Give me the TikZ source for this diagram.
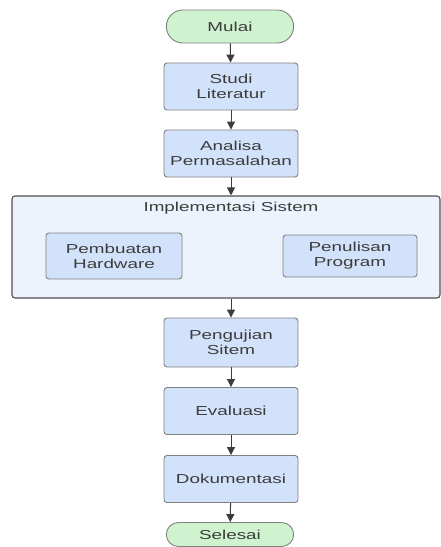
\documentclass[tikz,border=0pt]{standalone}
\usepackage{fontspec}
\setmainfont{Liberation Sans}[FakeStretch=1.45]
\usetikzlibrary{arrows.meta,shapes.misc}

\definecolor{boxfill}{HTML}{D2E2FA}
\definecolor{termfill}{HTML}{CFF2CF}
\definecolor{groupfill}{HTML}{EDF3FC}
\definecolor{inkgrey}{HTML}{3C3C3C}
\definecolor{edgegrey}{HTML}{808080}

\begin{document}
\begin{tikzpicture}[x=1pt, y=-1pt,
    every node/.style={text=inkgrey, align=center,
      font=\fontsize{13}{15}\selectfont},
    step box/.style={rectangle, rounded corners=3pt, draw=edgegrey,
      line width=0.9pt, fill=boxfill, minimum width=134pt, minimum height=47pt},
    terminal/.style={rounded rectangle, draw=edgegrey, line width=0.9pt,
      fill=termfill, minimum width=134pt, minimum height=33pt},
    group/.style={rectangle, rounded corners=3pt, draw=inkgrey!90,
      line width=1.1pt, fill=groupfill, minimum width=428pt, minimum height=102pt},
    flow/.style={draw=inkgrey, line width=1pt, -{Triangle[length=8pt,width=8pt]}}]
    \useasboundingbox (0,0) rectangle (441,547);
    \node[terminal] (mulai) at (230,26.5) {Mulai};
    \node[step box] (studi) at (231,86.5) {Studi\\Literatur};
    \node[step box] (analisa) at (231,153.5) {Analisa\\Permasalahan};
    \node[group] (impl) at (226,247) {};
    \node (impltitle) at (231,208) {Implementasi Sistem};
    \node[step box, minimum width=136pt, minimum height=46pt] (hardware)
      at (114,256) {Pembuatan\\Hardware};
    \node[step box, minimum height=42pt] (program)
      at (350,256) {Penulisan\\Program};
    \node[step box, minimum height=49pt] (uji) at (231,342.5) {Pengujian\\Sitem};
    \node[step box] (evaluasi) at (231,411) {Evaluasi};
    \node[step box] (dokumentasi) at (231,479) {Dokumentasi};
    \node[terminal, minimum height=24pt] (selesai) at (230,534.5) {Selesai};
    % connectors
    \draw[flow] (mulai) -- (studi);
    \draw[flow] (studi) -- (analisa);
    \draw[flow] (analisa.south) -- (analisa.south |- impl.north);
    \draw[flow] (uji.north |- impl.south) -- (uji.north);
    \draw[flow] (uji) -- (evaluasi);
    \draw[flow] (evaluasi) -- (dokumentasi);
    \draw[flow] (dokumentasi) -- (selesai);
\end{tikzpicture}
\end{document}
